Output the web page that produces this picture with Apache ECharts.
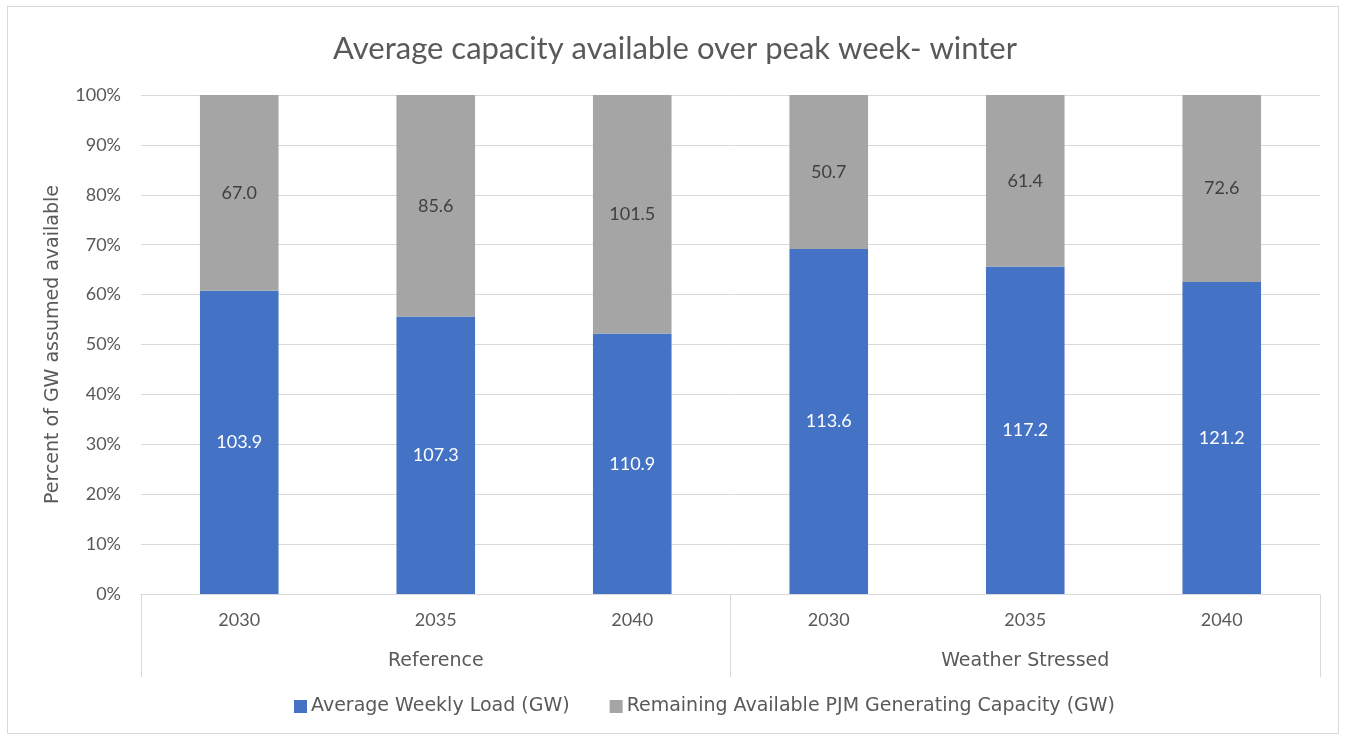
<!DOCTYPE html>
<html>
<head>
<meta charset="utf-8">
<script src="https://cdn.jsdelivr.net/npm/echarts@6/dist/echarts.min.js"></script>
<style>
html,body{margin:0;padding:0;background:#fff;}
#frame{position:absolute;left:7px;top:6px;width:1332px;height:728px;border:1px solid #d9d9d9;box-sizing:border-box;}
#chart{position:absolute;left:0;top:0;width:1350px;height:738px;}
</style>
</head>
<body>
<div id="frame"></div>
<div id="chart"></div>
<script>
const years = ['2030', '2035', '2040', '2030', '2035', '2040'];
const groups = ['Reference', 'Weather Stressed'];
const loadGW = [103.9, 107.3, 110.9, 113.6, 117.2, 121.2];
const remainingGW = [67.0, 85.6, 101.5, 50.7, 61.4, 72.6];
const yTicks = [0, 10, 20, 30, 40, 50, 60, 70, 80, 90, 100];

const FONT = 'Lato';
const WIDE = 'DejaVu Sans';
const totals = loadGW.map((v, i) => v + remainingGW[i]);
const loadPct = loadGW.map((v, i) => ({ value: v / totals[i] * 100, raw: v }));
const remPct = remainingGW.map((v, i) => ({ value: v / totals[i] * 100, raw: v }));

const chart = echarts.init(document.getElementById('chart'));
chart.setOption({
  animation: false,
  textStyle: { fontFamily: FONT },
  title: {
    text: 'Average capacity available over peak week- winter',
    left: 'center', top: 28,
    textStyle: { fontFamily: FONT, fontSize: 31, fontWeight: 'normal', color: '#595959' }
  },
  legend: {
    bottom: 17, left: 289,
    itemWidth: 13, itemHeight: 13, itemGap: 40,
    icon: 'rect',
    textStyle: { fontFamily: WIDE, fontSize: 19, color: '#595959', padding: [0, 0, 0, -1] },
    data: ['Average Weekly Load (GW)', 'Remaining Available PJM Generating Capacity (GW)']
  },
  grid: { left: 141, right: 30, top: 95, bottom: 144 },
  xAxis: [
    {
      type: 'category', data: years, position: 'bottom',
      axisLine: { show: true, lineStyle: { color: '#d9d9d9', width: 1 } },
      axisTick: { show: false },
      axisLabel: { fontFamily: FONT, fontSize: 18, color: '#595959', margin: 17 }
    },
    {
      type: 'category', data: groups, position: 'bottom', offset: 0,
      axisLine: { show: true, lineStyle: { color: '#d9d9d9', width: 1 } },
      axisTick: { show: true, length: 83, inside: false, lineStyle: { color: '#d9d9d9', width: 1 } },
      axisLabel: { fontFamily: WIDE, fontSize: 19, color: '#595959', margin: 58 }
    }
  ],
  yAxis: {
    type: 'value', min: 0, max: 100, interval: 10,
    name: 'Percent of GW assumed available',
    nameLocation: 'middle', nameRotate: 90, nameGap: 78,
    nameTextStyle: { fontFamily: WIDE, fontSize: 19, color: '#595959' },
    axisLine: { show: false }, axisTick: { show: false },
    splitLine: { lineStyle: { color: '#d9d9d9', width: 1 } },
    axisLabel: {
      fontFamily: FONT, fontSize: 18, color: '#595959', margin: 20,
      formatter: v => yTicks.includes(v) ? v + '%' : ''
    }
  },
  series: [
    {
      name: 'Average Weekly Load (GW)', type: 'bar', stack: 'total',
      xAxisIndex: 0, barWidth: '40%',
      itemStyle: { color: '#4472C4' },
      label: {
        show: true, position: 'inside', color: '#ffffff', fontFamily: FONT, fontSize: 18,
        formatter: p => p.data.raw.toFixed(1)
      },
      data: loadPct
    },
    {
      name: 'Remaining Available PJM Generating Capacity (GW)', type: 'bar', stack: 'total',
      xAxisIndex: 0, barWidth: '40%',
      itemStyle: { color: '#A5A5A5' },
      label: {
        show: true, position: 'inside', color: '#404040', fontFamily: FONT, fontSize: 18,
        formatter: p => p.data.raw.toFixed(1)
      },
      data: remPct
    }
  ]
});
</script>
</body>
</html>
